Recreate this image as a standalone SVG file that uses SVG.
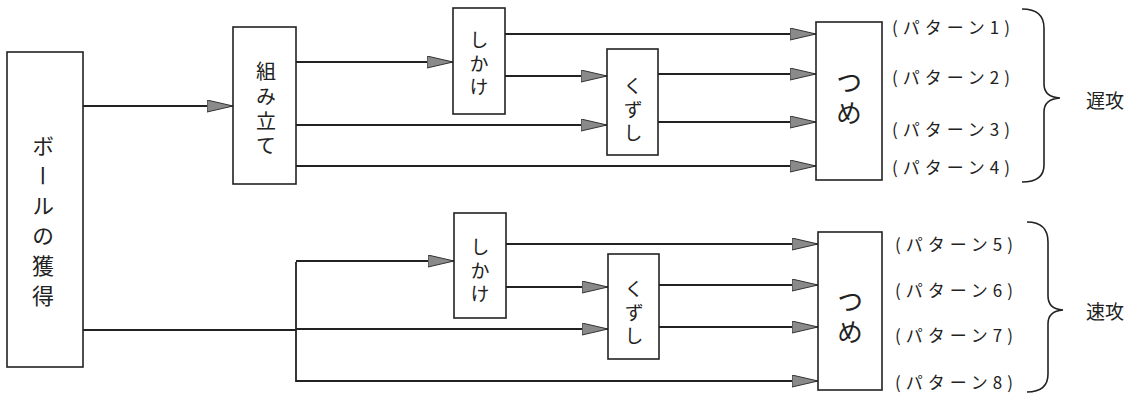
<svg xmlns="http://www.w3.org/2000/svg" width="1144" height="397" viewBox="0 0 1144 397">
<style>
.box{fill:#fff;stroke:#222;stroke-width:1.6}
.ln{fill:none;stroke:#222;stroke-width:1.8}
.ar{marker-end:url(#ah)}
.t{font-family:"Noto Sans CJK JP","Noto Sans CJK SC",sans-serif;fill:#222;text-anchor:middle;dominant-baseline:central}
.v{writing-mode:vertical-rl}
.p{font-family:"Noto Sans CJK JP","Liberation Serif",sans-serif;font-size:17px;fill:#222;dominant-baseline:central}
.br{fill:none;stroke:#222;stroke-width:1.6}
</style>
<defs>
<marker id="ah" markerUnits="userSpaceOnUse" markerWidth="27" markerHeight="13" refX="26" refY="6.5" orient="auto">
<path d="M0,0.5 L26,6.5 L0,12.5 Z" fill="#8a8a8a" stroke="#333" stroke-width="1"/>
</marker>
</defs>
<g id="connectors">
<path class="ln ar" d="M83,106 H233"/>
<path class="ln ar" d="M296,62 H453"/>
<path class="ln ar" d="M296,125 H607"/>
<path class="ln ar" d="M296,166 H816"/>
<path class="ln ar" d="M505,34 H816"/>
<path class="ln ar" d="M505,76 H607"/>
<path class="ln ar" d="M658,74 H816"/>
<path class="ln ar" d="M658,122 H816"/>
<path class="ln" d="M83,330 H296 M296,262 V382"/>
<path class="ln ar" d="M296,261 H454"/>
<path class="ln ar" d="M296,329 H608"/>
<path class="ln ar" d="M296,381 H818"/>
<path class="ln ar" d="M506,244 H818"/>
<path class="ln ar" d="M506,287 H608"/>
<path class="ln ar" d="M659,285 H818"/>
<path class="ln ar" d="M659,327 H818"/>
</g>
<g id="ball">
<rect class="box" x="7" y="52" width="76" height="315"/>
<text class="t v" x="43" y="225" font-size="22" letter-spacing="8">ボールの獲得</text>
</g>
<g id="kumitate">
<rect class="box" x="233" y="27" width="63" height="157"/>
<text class="t v" x="266" y="111" font-size="20" letter-spacing="4.7">組み立て</text>
</g>
<g id="shikake1">
<rect class="box" x="453" y="8" width="52" height="106"/>
<text class="t v" x="479" y="66" font-size="19" letter-spacing="4.5">しかけ</text>
</g>
<g id="kuzushi1">
<rect class="box" x="607" y="49" width="51" height="106"/>
<text class="t v" x="633" y="112" font-size="19" letter-spacing="4.5">くずし</text>
</g>
<g id="tsume1">
<rect class="box" x="816" y="22" width="66" height="158"/>
<text class="t v" x="849" y="100" font-size="26" letter-spacing="5">つめ</text>
</g>
<g id="shikake2">
<rect class="box" x="454" y="213" width="52" height="105"/>
<text class="t v" x="480" y="273" font-size="19" letter-spacing="4.5">しかけ</text>
</g>
<g id="kuzushi2">
<rect class="box" x="608" y="254" width="51" height="105"/>
<text class="t v" x="634" y="315" font-size="19" letter-spacing="4.5">くずし</text>
</g>
<g id="tsume2">
<rect class="box" x="818" y="232" width="64" height="158"/>
<text class="t v" x="850" y="319" font-size="26" letter-spacing="5">つめ</text>
</g>
<g id="patterns">
<text class="p" x="892" y="26" textLength="118" lengthAdjust="spacing">(パターン1)</text>
<text class="p" x="892" y="76" textLength="118" lengthAdjust="spacing">(パターン2)</text>
<text class="p" x="892" y="128" textLength="118" lengthAdjust="spacing">(パターン3)</text>
<text class="p" x="892" y="166" textLength="118" lengthAdjust="spacing">(パターン4)</text>
<text class="p" x="895" y="243" textLength="118" lengthAdjust="spacing">(パターン5)</text>
<text class="p" x="895" y="289" textLength="118" lengthAdjust="spacing">(パターン6)</text>
<text class="p" x="895" y="334" textLength="118" lengthAdjust="spacing">(パターン7)</text>
<text class="p" x="895" y="381" textLength="118" lengthAdjust="spacing">(パターン8)</text>
</g>
<g id="slow">
<path class="br" d="M1022,9 Q1044,9 1044,28 V84 Q1044,97 1060,98 Q1044,99 1044,112 V165 Q1044,182 1022,182"/>
<text class="t" x="1105" y="99" font-size="19">遅攻</text>
</g>
<g id="fast">
<path class="br" d="M1027,222 Q1048,222 1048,242 V296 Q1048,309 1063,310 Q1048,311 1048,324 V374 Q1048,392 1027,392"/>
<text class="t" x="1105" y="310" font-size="19">速攻</text>
</g>
</svg>
